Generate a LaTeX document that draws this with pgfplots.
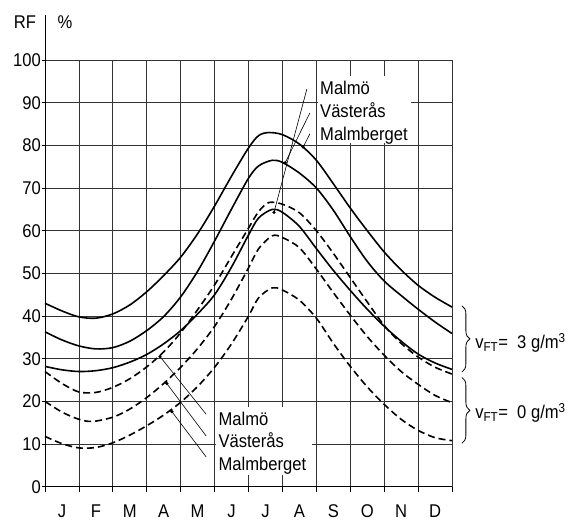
\documentclass[border=0pt]{standalone}
\usepackage{fontspec}
\setmainfont{Liberation Sans}[FakeStretch=0.9]
\usepackage{pgfplots}
\pgfplotsset{compat=1.18}
\usetikzlibrary{decorations.pathreplacing}

\begin{document}
\begin{tikzpicture}[font=\fontsize{18.5}{22}\selectfont]
\begin{axis}[
  scale only axis,
  width=407bp, height=426.7bp,
  xmin=0, xmax=12, ymin=0, ymax=100,
  axis x line*=bottom, axis y line*=left,
  axis line style={line width=1bp},
  xtick={0.5,1.5,...,11.5},
  xticklabels={J,F,M,A,M,J,J,A,S,O,N,D},
  minor xtick={0,1,...,12},
  xminorgrids=true,
  every major x tick/.style={draw=none},
  ytick={0,10,...,100},
  ymajorgrids=true,
  tick align=outside,
  major tick length=3bp,
  minor tick length=5bp,
  tick style={black, line width=0.8bp},
  grid style={black!80, line width=0.7bp},
  minor grid style={black!80, line width=0.7bp},
  yticklabel style={inner xsep=1pt},
  xticklabel style={yshift=-11bp, text height=13bp, text depth=0pt},
  /pgf/number format/assume math mode=true,
  clip=false,
]
% v_FT = 3 g/m3
\addplot[black, line width=1.6bp, smooth] coordinates {
 (0,43) (0.5,41.2) (1,39.8) (1.5,39.5) (2,40.5) (2.5,42.6) (3,45.7) (3.5,49.5) (4,53.8) (4.5,59.3) (5,65.8) (5.5,72.8) (6,79.4) (6.3,82.3) (6.6,83) (7,82.5) (7.5,80.3) (8,76.5) (8.5,71) (9,65.3) (9.5,60) (10,55) (10.5,50.8) (11,47.2) (11.5,44.4) (12,42.1)};
\addplot[black, line width=1.6bp, smooth] coordinates {
 (0,36.3) (0.5,34.4) (1,33) (1.5,32.3) (2,32.6) (2.5,34.1) (3,36.6) (3.5,39.9) (4,44.5) (4.5,50.5) (5,57.6) (5.5,65.1) (6,72.3) (6.3,75.2) (6.7,76.5) (7,76) (7.5,73.5) (8,70) (8.5,64.8) (9,58.6) (9.5,52.8) (10,48.2) (10.5,44.8) (11,41.6) (11.5,38.6) (12,35.9)};
\addplot[black, line width=1.6bp, smooth] coordinates {
 (0,28.2) (0.5,27.4) (1,27) (1.5,27.2) (2,27.9) (2.5,29.2) (3,31) (3.5,33.5) (4,36.6) (4.5,40.5) (5,45) (5.5,51.5) (6,59) (6.3,63) (6.7,65) (7,64.3) (7.5,61) (8,55.8) (8.5,50.7) (9,46) (9.5,41.6) (10,37.6) (10.5,34.1) (11,31.1) (11.5,29) (12,27.5)};
% v_FT = 0 g/m3
\addplot[black, line width=1.6bp, smooth, dash pattern=on 7bp off 4bp] coordinates {
 (0,27) (0.5,24.2) (1,22.2) (1.5,22.1) (2,23.3) (2.5,25.3) (3,28.1) (3.5,31.6) (4,36.1) (4.5,41.5) (5,47.3) (5.5,54) (6,60.6) (6.3,64.5) (6.6,66.6) (7,66.2) (7.5,64.2) (8,60) (8.5,54.7) (9,49) (9.5,43.3) (10,37.8) (10.5,33.6) (11,30.4) (11.5,28) (12,26.4)};
\addplot[black, line width=1.6bp, smooth, dash pattern=on 7bp off 4bp] coordinates {
 (0,20) (0.5,17.5) (1,15.8) (1.4,15.3) (2,16.3) (2.5,18.2) (3,20.9) (3.5,24.2) (4,28) (4.5,32.4) (5,37.6) (5.5,44) (6,51.3) (6.3,55.8) (6.7,58.8) (7,58.4) (7.5,56) (8,51) (8.5,45.5) (9,40.2) (9.5,35.2) (10,30.8) (10.5,27) (11,24) (11.5,21.4) (12,19.7)};
\addplot[black, line width=1.6bp, smooth, dash pattern=on 7bp off 4bp] coordinates {
 (0,11.8) (0.5,10.1) (1,9.1) (1.5,9.2) (2,10.3) (2.5,12.1) (3,14.3) (3.5,16.8) (4,19.8) (4.5,23.5) (5,28) (5.5,33.5) (6,40) (6.3,44.3) (6.7,46.6) (7,46.1) (7.5,43.7) (8,39.5) (8.5,33.6) (9,28.2) (9.5,23.4) (10,19.3) (10.5,15.8) (11,13.2) (11.5,11.5) (12,10.8)};

% label areas
\fill[white] (axis cs:8.05,80.45) rectangle (axis cs:10.8,96.2);
\fill[white] (axis cs:5.03,2.8) rectangle (axis cs:7.87,18.6);

% upper pointers
\draw[line width=0.6bp] (axis cs:7.72,93.2) -- (axis cs:6.75,64.3);
\draw[line width=0.6bp] (axis cs:7.81,87.6) -- (axis cs:7.08,75.9);
\draw[line width=0.6bp] (axis cs:7.81,82.7) -- (axis cs:7.61,79.6);
\fill (axis cs:6.75,64.3) circle (1.8bp);
\fill (axis cs:7.08,75.9) circle (1.8bp);
\fill (axis cs:7.61,79.6) circle (1.8bp);
\node[anchor=base west, inner sep=0pt] at (axis cs:8.107,91.96) {Malmö};
\node[anchor=base west, inner sep=0pt] at (axis cs:8.107,86.57) {Västerås};
\node[anchor=base west, inner sep=0pt] at (axis cs:8.107,81.2) {Malmberget};

% lower pointers
\draw[line width=0.6bp] (axis cs:3.39,30.5) -- (axis cs:4.75,17.0);
\draw[line width=0.6bp] (axis cs:3.59,24.2) -- (axis cs:4.75,11.9);
\draw[line width=0.6bp] (axis cs:3.74,17.6) -- (axis cs:4.75,7.0);
\fill (axis cs:3.39,30.5) circle (1.8bp);
\fill (axis cs:3.59,24.2) circle (1.8bp);
\fill (axis cs:3.74,17.6) circle (1.8bp);
\node[anchor=base west, inner sep=0pt] at (axis cs:5.11,14.3) {Malmö};
\node[anchor=base west, inner sep=0pt] at (axis cs:5.11,9.1) {Västerås};
\node[anchor=base west, inner sep=0pt] at (axis cs:5.11,3.9) {Malmberget};

% braces
\draw[decorate, decoration={brace, amplitude=8bp}, line width=0.8bp]
  (axis cs:12.29,42.4) -- (axis cs:12.29,26.9);
\draw[decorate, decoration={brace, amplitude=8bp}, line width=0.8bp]
  (axis cs:12.29,25.6) -- (axis cs:12.29,10.2);
\node[anchor=base west, inner sep=0pt] at (axis cs:12.68,32.4) {v\textsubscript{FT}=\ \ 3 g/m\textsuperscript{3}};
\node[anchor=base west, inner sep=0pt] at (axis cs:12.68,16.0) {v\textsubscript{FT}=\ \ 0 g/m\textsuperscript{3}};

% axis title
\draw[line width=1bp] (axis cs:0,100) -- (axis cs:0,110.5);
\node[anchor=base, inner sep=0pt] at (axis cs:-0.59,107.4) {RF};
\node[anchor=base, inner sep=0pt] at (axis cs:0.59,107.4) {\%};

\coordinate (bbsw) at (axis cs:-1.3267,-8.976);
\coordinate (bbne) at (axis cs:15.595,114.06);
\end{axis}
\pgfresetboundingbox
\path (bbsw) rectangle (bbne);
\end{tikzpicture}
\end{document}
